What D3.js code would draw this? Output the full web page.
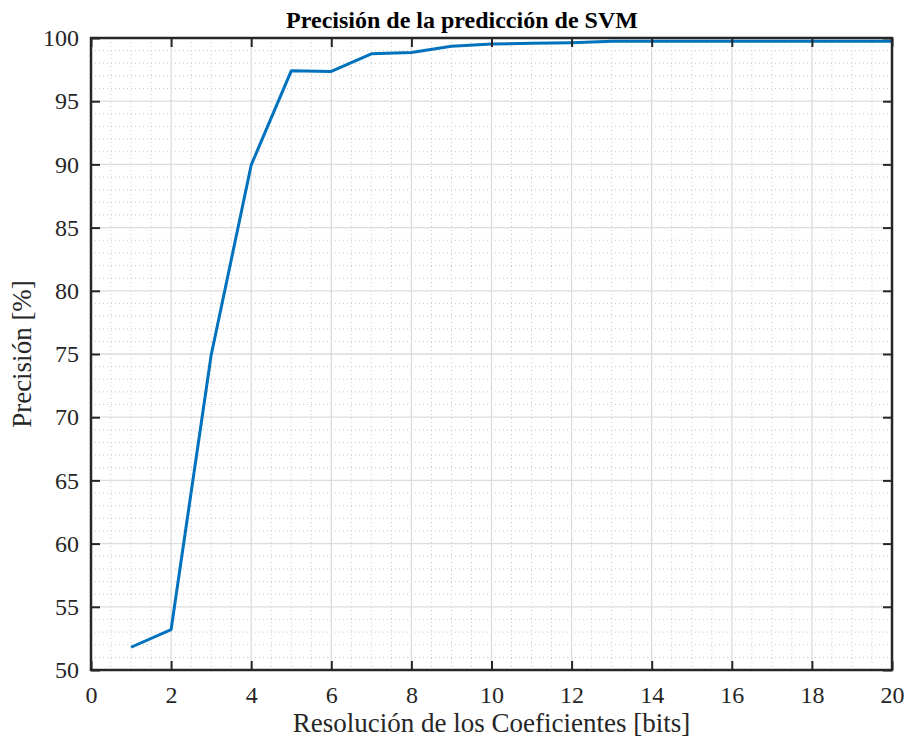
<!DOCTYPE html>
<html>
<head>
<meta charset="utf-8">
<script src="https://cdn.jsdelivr.net/npm/d3@7"></script>
<style>
  body { margin: 0; background: #fff; }
</style>
</head>
<body>
<div id="chart"></div>
<script>
// data
let bits = [1, 2, 3, 4, 5, 6, 7, 8, 9, 10, 11, 12, 13, 14, 15, 16, 17, 18, 19, 20]
let precision = [51.8, 53.2, 74.9, 89.95, 97.4, 97.35, 98.75, 98.85, 99.35, 99.52, 99.58, 99.63, 99.75, 99.75, 99.75, 99.75, 99.75, 99.75, 99.75, 99.75]
let xTicks = [0, 2, 4, 6, 8, 10, 12, 14, 16, 18, 20]
let yTicks = [50, 55, 60, 65, 70, 75, 80, 85, 90, 95, 100]

let serif = '"Liberation Serif", "Times New Roman", Times, serif'

let margin = { top: 38, left: 91, right: 14, bottom: 74 }
let width = 906 - margin.left - margin.right
let height = 744 - margin.top - margin.bottom

let svg = d3
  .select('#chart')
  .append('svg')
  .attr('width', 906)
  .attr('height', 744)
  .style('font-family', serif)

let g = svg.append('g').attr('transform', `translate(${margin.left},${margin.top})`)

let x = d3.scaleLinear().domain([0, 20]).range([0, width])
let y = d3.scaleLinear().domain([50, 100]).range([height, 0])

// minor grid (dotted)
g.append('g')
  .selectAll('line')
  .data(d3.range(0.5, 20, 0.5).filter(d => d % 2 !== 0))
  .join('line')
  .attr('x1', d => x(d))
  .attr('x2', d => x(d))
  .attr('y1', 0)
  .attr('y2', height)
  .attr('stroke', '#c8c8c8')
  .attr('stroke-width', 1)
  .attr('stroke-dasharray', '1,3')

g.append('g')
  .selectAll('line')
  .data(d3.range(51, 100, 1).filter(d => d % 5 !== 0))
  .join('line')
  .attr('x1', 0)
  .attr('x2', width)
  .attr('y1', d => y(d))
  .attr('y2', d => y(d))
  .attr('stroke', '#c8c8c8')
  .attr('stroke-width', 1)
  .attr('stroke-dasharray', '1,3')

// major grid
g.append('g')
  .selectAll('line')
  .data(xTicks.slice(1, -1))
  .join('line')
  .attr('x1', d => x(d))
  .attr('x2', d => x(d))
  .attr('y1', 0)
  .attr('y2', height)
  .attr('stroke', '#dcdcdc')
  .attr('stroke-width', 1.3)

g.append('g')
  .selectAll('line')
  .data(yTicks.slice(1, -1))
  .join('line')
  .attr('x1', 0)
  .attr('x2', width)
  .attr('y1', d => y(d))
  .attr('y2', d => y(d))
  .attr('stroke', '#dcdcdc')
  .attr('stroke-width', 1.3)

// the line
let line = d3.line()
  .x((d, i) => x(bits[i]))
  .y(d => y(d))

g.append('path')
  .datum(precision)
  .attr('d', line)
  .attr('fill', 'none')
  .attr('stroke', '#0072BD')
  .attr('stroke-width', 3)
  .attr('stroke-linejoin', 'round')

// axes, ticks pointing inward
function styleAxis(sel) {
  sel.attr('font-family', null).attr('font-size', null)
  sel.select('.domain').remove()
  sel.selectAll('.tick line').attr('stroke', '#262626').attr('stroke-width', 2)
  sel.selectAll('.tick text')
    .style('font-family', serif)
    .style('font-size', '24px')
    .attr('fill', '#262626')
}

g.append('g')
  .attr('transform', `translate(0,${height})`)
  .call(d3.axisBottom(x).tickValues(xTicks).tickSize(-9).tickPadding(16))
  .call(styleAxis)

g.append('g')
  .call(d3.axisTop(x).tickValues(xTicks).tickSize(-9).tickFormat(''))
  .call(styleAxis)

g.append('g')
  .call(d3.axisLeft(y).tickValues(yTicks).tickSize(-9).tickPadding(12))
  .call(styleAxis)

g.append('g')
  .attr('transform', `translate(${width},0)`)
  .call(d3.axisRight(y).tickValues(yTicks).tickSize(-9).tickFormat(''))
  .call(styleAxis)

// frame
g.append('rect')
  .attr('width', width)
  .attr('height', height)
  .attr('fill', 'none')
  .attr('stroke', '#262626')
  .attr('stroke-width', 2.5)

// title and labels
svg.append('text')
  .attr('x', 462)
  .attr('y', 28)
  .attr('text-anchor', 'middle')
  .style('font-family', serif)
  .style('font-weight', 'bold')
  .style('font-size', '24px')
  .attr('fill', '#000')
  .text('Precisión de la predicción de SVM')

svg.append('text')
  .attr('x', margin.left + width / 2)
  .attr('y', 732)
  .attr('text-anchor', 'middle')
  .style('font-family', serif)
  .style('font-size', '27px')
  .attr('fill', '#262626')
  .text('Resolución de los Coeficientes [bits]')

svg.append('text')
  .attr('transform', `translate(31,${margin.top + height / 2}) rotate(-90)`)
  .attr('text-anchor', 'middle')
  .style('font-family', serif)
  .style('font-size', '27px')
  .attr('fill', '#262626')
  .text('Precisión [%]')
</script>
</body>
</html>
